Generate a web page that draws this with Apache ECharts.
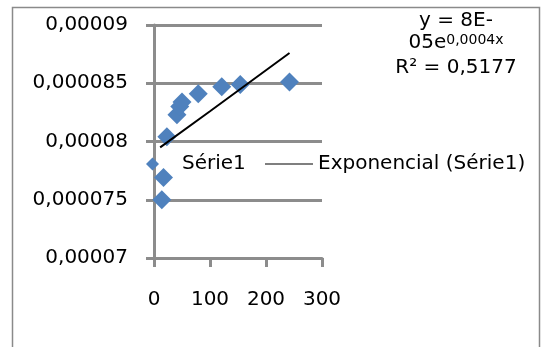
<!DOCTYPE html>
<html><head><meta charset="utf-8">
<script src="https://cdn.jsdelivr.net/npm/echarts@6/dist/echarts.min.js"></script>
<style>html,body{margin:0;padding:0;background:#fff}#c{width:543px;height:347px}</style>
</head><body><div id="c"></div>
<script>
const seriesName = 'Série1';
const trendName = 'Exponencial (Série1)';
const xValues = [14, 17, 23, 41, 46, 50, 79, 121, 154, 242];
const yValues = [0.0000750, 0.0000769, 0.0000804, 0.0000823, 0.0000830, 0.0000834, 0.0000841, 0.0000847, 0.0000849, 0.0000851];
const trendX = [11, 100, 242];
const trendY = [0.0000795, 0.0000826, 0.0000876];
const xTickLabels = ['0', '100', '200', '300'];
const yTickLabels = ['0,00007', '0,000075', '0,00008', '0,000085', '0,00009'];
const eqLines = ['y = 8E-', '05e', '0,0004x', 'R² = 0,5177'];

const FONT = 'DejaVu Sans';
const GRAY = '#8c8c8c';
const chart = echarts.init(document.getElementById('c'), null, {renderer: 'canvas'});
chart.setOption({
  animation: false,
  backgroundColor: '#fff',
  grid: {left: 154, top: 25, width: 168, height: 233, containLabel: false},
  xAxis: {
    type: 'value', min: 0, max: 300, interval: 100,
    axisLine: {show: true, onZero: false, lineStyle: {color: GRAY, width: 3}},
    axisTick: {show: true, length: 9, lineStyle: {color: GRAY, width: 3}},
    splitLine: {show: false},
    axisLabel: {margin: 32, color: '#000', fontSize: 20, fontFamily: FONT,
      formatter: (v, i) => xTickLabels[i]}
  },
  yAxis: {
    type: 'value', min: 0.00007, max: 0.00009, interval: 0.000005,
    axisLine: {show: true, onZero: false, lineStyle: {color: GRAY, width: 3}},
    axisTick: {show: true, length: 8, lineStyle: {color: GRAY, width: 3}},
    splitLine: {show: true, lineStyle: {color: GRAY, width: 3}},
    axisLabel: {margin: 26, color: '#000', fontSize: 20, fontFamily: FONT,
      formatter: (v, i) => yTickLabels[i]}
  },
  legend: [
    {data: [{name: seriesName, icon: 'diamond'}], left: 146, top: 154, padding: 0,
     itemWidth: 13, itemHeight: 13,
     textStyle: {fontSize: 20, fontFamily: FONT, color: '#000', padding: [0, 0, 0, 18]}},
    {data: [{name: trendName, icon: 'path://M0,0L48,0L48,1L0,1Z'}], left: 265, top: 154, padding: 0,
     itemWidth: 48, itemHeight: 13,
     itemStyle: {color: '#000', borderWidth: 0},
     textStyle: {fontSize: 20, fontFamily: FONT, color: '#000'}}
  ],
  series: [
    {name: seriesName, type: 'scatter', symbol: 'diamond', symbolSize: 19,
     itemStyle: {color: '#4f81bd', opacity: 1},
     data: xValues.map((x, i) => [x, yValues[i]])},
    {name: trendName, type: 'line', symbol: 'none', smooth: false,
     lineStyle: {color: '#000', width: 2}, itemStyle: {color: '#000'},
     data: trendX.map((x, i) => [x, trendY[i]])}
  ],
  graphic: [
    {type: 'rect', silent: true, shape: {x: 12.5, y: 7.5, width: 527, height: 360},
     style: {fill: 'none', stroke: '#8a8a8a', lineWidth: 1.5}},
    {type: 'text', style: {x: 456, y: 21, text: eqLines[0], align: 'center', verticalAlign: 'middle',
      fontSize: 20, fontFamily: FONT, fill: '#000'}},
    {type: 'text', style: {x: 456, y: 43, text: '{m|' + eqLines[1] + '}{s|' + eqLines[2] + '}',
      align: 'center', verticalAlign: 'middle', fill: '#000',
      rich: {m: {fontSize: 20, fontFamily: FONT, lineHeight: 20},
             s: {fontSize: 14, fontFamily: FONT, lineHeight: 10, verticalAlign: 'top'}}}},
    {type: 'text', style: {x: 456, y: 68, text: eqLines[3], align: 'center', verticalAlign: 'middle',
      fontSize: 20, fontFamily: FONT, fill: '#000'}}
  ]
});
</script></body></html>
